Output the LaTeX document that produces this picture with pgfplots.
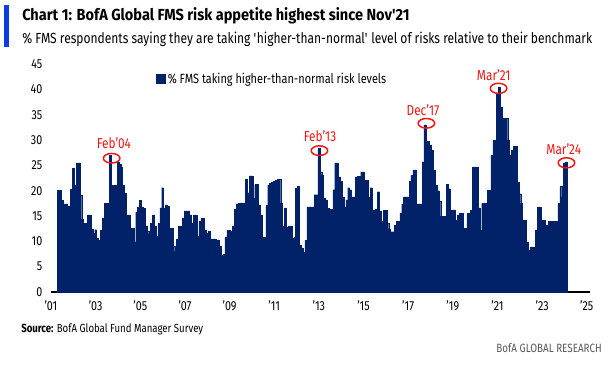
\documentclass[border=0pt]{standalone}
\usepackage{fontspec}
\setmainfont{Fira Sans}[FakeStretch=0.82]
\newfontfamily\titlefont{Fira Sans}[FakeStretch=0.91]
\usepackage{pgfplots}
\pgfplotsset{compat=1.18}
\definecolor{bofanavy}{RGB}{1,33,105}
\definecolor{bofared}{RGB}{240,20,20}
\definecolor{bofablue}{RGB}{10,60,230}
\begin{document}
\begin{tikzpicture}
\path[use as bounding box] (0,0) rectangle (456.75pt,282pt);
\begin{scope}[x=0.75pt,y=-0.75pt,shift={(0,282pt)}]
\fill[bofablue] (4,5) rectangle (9,47);
\node[anchor=base west, inner sep=0, font=\titlefont\bfseries\fontsize{12}{13}\selectfont] at (22,20) {Chart 1: BofA Global FMS risk appetite highest since Nov'21};
\node[anchor=base west, inner sep=0, font=\fontsize{11}{12}\selectfont] at (22,43) {\% FMS respondents saying they are taking \textquotesingle higher-than-normal\textquotesingle{} level of risks relative to their benchmark};
\node[anchor=west, inner sep=0, font=\fontsize{8.8}{9}\selectfont] at (21,329) {\textbf{Source:} BofA Global Fund Manager Survey};
\node[anchor=east, inner sep=0, text=black!65, font=\fontsize{9}{10}\selectfont] at (602,348) {BofA GLOBAL RESEARCH};
\end{scope}
\begin{axis}[
  at={(38.25pt,63pt)}, anchor=south west,
  width=403.9pt, height=171pt, scale only axis,
  xmin=0, xmax=289.5, ymin=0, ymax=45,
  enlargelimits=false, clip=false,
  axis lines*=left,
  y axis line style={draw=none},
  x axis line style={black, line width=0.8pt},
  xtick={0,24,...,288},
  xticklabels={'01,'03,'05,'07,'09,'11,'13,'15,'17,'19,'21,'23,'25},
  ytick={0,5,...,45},
  major tick length=0pt,
  tick style={draw=none},
  tick label style={font=\fontsize{9.8}{10}\selectfont},
  /pgf/number format/assume math mode=true,
  yticklabel style={xshift=-3pt},
  xticklabel style={yshift=-3pt},
  legend style={at={(0.195,0.975)}, anchor=north west, draw=none, fill=none,
    font=\fontsize{10}{11}\selectfont, inner sep=0pt},
]
\addplot[ybar, bar width=1, fill=bofanavy, draw=bofanavy, line width=0.2pt,
  legend image code/.code={\fill[bofanavy] (0pt,-3.2pt) rectangle (6.4pt,3.2pt);}]
table[row sep=\\] {
x y\\
4 20.1\\ 5 20.1\\ 6 18.1\\ 7 17.4\\ 8 17.4\\ 9 17\\ 10 17\\ 11 20.3\\ 12 24.4\\ 13 21\\
14 25.5\\ 15 25.5\\ 16 19.1\\ 17 14.4\\ 18 13.6\\ 19 13.6\\ 20 15.2\\ 21 15.2\\ 22 12.4\\ 23 11.6\\
24 12.3\\ 25 10.6\\ 26 10.2\\ 27 12.2\\ 28 14.5\\ 29 17.5\\ 30 17.5\\ 31 17.5\\ 32 27\\ 33 21\\
34 21\\ 35 21\\ 36 25.7\\ 37 25.2\\ 38 24.7\\ 39 21.1\\ 40 19.5\\ 41 15.2\\ 42 15.2\\ 43 12.6\\
44 12.6\\ 45 9.9\\ 46 15.8\\ 47 16.8\\ 48 18.1\\ 49 16.8\\ 50 16.5\\ 51 13\\ 52 12\\ 53 11.5\\
54 13.5\\ 55 15.2\\ 56 13\\ 57 11\\ 58 13.6\\ 59 16.6\\ 60 20.6\\ 61 16.6\\ 62 17.2\\ 63 17\\
64 12.6\\ 65 12.6\\ 66 9\\ 67 8\\ 68 10.5\\ 69 13\\ 70 13\\ 71 14.5\\ 72 16\\ 73 16\\
74 16\\ 75 15.2\\ 76 13.6\\ 77 15.2\\ 78 15.2\\ 79 11\\ 80 14\\ 81 14.5\\ 82 14.5\\ 83 12.2\\
84 11.6\\ 85 12\\ 86 10.5\\ 87 10.5\\ 88 10.5\\ 89 10.3\\ 90 10.3\\ 91 9\\ 92 7.3\\ 93 7.5\\
94 10.9\\ 95 12.2\\ 96 12.2\\ 97 12\\ 98 13\\ 99 16.3\\ 100 17.4\\ 101 17.5\\ 102 17.6\\ 103 17.6\\
104 17.6\\ 105 22.2\\ 106 19.6\\ 107 22.9\\ 108 22.9\\ 109 18.5\\ 110 21.2\\ 111 21.2\\ 112 17.2\\ 113 15.2\\
114 10.8\\ 115 10.8\\ 116 17.1\\ 117 21.1\\ 118 21.5\\ 119 21.6\\ 120 21.8\\ 121 22\\ 122 22.3\\ 123 22.3\\
124 17.6\\ 125 13\\ 126 16.6\\ 127 12.8\\ 128 13\\ 129 13\\ 130 10.6\\ 131 10.9\\ 132 20.5\\ 133 20.8\\
134 9.3\\ 135 8.7\\ 136 7.8\\ 137 10.2\\ 138 16.8\\ 139 16.8\\ 140 16.8\\ 141 16.8\\ 142 19.2\\ 143 19.2\\
144 28.3\\ 145 23.7\\ 146 23.1\\ 147 18.5\\ 148 18.2\\ 149 16.5\\ 150 16.3\\ 151 16.3\\ 152 20.2\\ 153 25.5\\
154 25.5\\ 155 22.7\\ 156 21.8\\ 157 18.8\\ 158 16.8\\ 159 18.2\\ 160 20.6\\ 161 20.2\\ 162 18.8\\ 163 18.8\\
164 22.7\\ 165 22.8\\ 166 22.8\\ 167 23.7\\ 168 23.7\\ 169 22.1\\ 170 22.1\\ 171 18.8\\ 172 20.6\\ 173 16.1\\
174 15.4\\ 175 16.3\\ 176 19.8\\ 177 16\\ 178 13.9\\ 179 16.1\\ 180 16.1\\ 181 13.6\\ 182 12.5\\ 183 11.9\\
184 11.9\\ 185 13.2\\ 186 13.9\\ 187 13.9\\ 188 15.5\\ 189 17.4\\ 190 18.8\\ 191 18.8\\ 192 18.8\\ 193 21.8\\
194 23\\ 195 24.1\\ 196 24.1\\ 197 17.4\\ 198 17.4\\ 199 17.4\\ 200 25.7\\ 201 33\\ 202 29.8\\ 203 29.8\\
204 29\\ 205 28\\ 206 24\\ 207 21\\ 208 20\\ 209 18\\ 210 15\\ 211 15\\ 212 15\\ 213 21.3\\
214 20.4\\ 215 16.2\\ 216 16.2\\ 217 16.2\\ 218 14.2\\ 219 15.2\\ 220 15.5\\ 221 15.5\\ 222 12.6\\ 223 12.6\\
224 15.5\\ 225 15.5\\ 226 16.1\\ 227 24.7\\ 228 24.7\\ 229 24.7\\ 230 16.6\\ 231 12.2\\ 232 17.5\\ 233 17.5\\
234 17.5\\ 235 20.1\\ 236 20.1\\ 237 27\\ 238 30\\ 239 30\\ 240 39.2\\ 241 40.5\\ 242 36.5\\ 243 34.3\\
244 34.3\\ 245 34.3\\ 246 30\\ 247 27\\ 248 28\\ 249 28.8\\ 250 28.8\\ 251 21.6\\ 252 19.4\\ 253 17.5\\
254 14.2\\ 255 14.2\\ 256 9.9\\ 257 8.3\\ 258 8.9\\ 259 8.9\\ 260 8.7\\ 261 12.2\\ 262 16.8\\ 263 16.8\\
264 14.2\\ 265 14.2\\ 266 13.2\\ 267 13.2\\ 268 14\\ 269 14\\ 270 14\\ 271 14\\ 272 14\\ 273 17.5\\
274 20.8\\ 275 18.8\\ 276 25.5\\ 277 25.7\\
};
\addlegendentry{\% FMS taking higher-than-normal risk levels}
\draw[bofared, line width=1.1pt] (axis cs:32.6,26.4) ellipse [x radius=6.2pt, y radius=3.6pt];
\node[bofared, font=\fontsize{10.8}{12}\selectfont] at (axis cs:33.8,29.4) {Feb'04};
\draw[bofared, line width=1.1pt] (axis cs:144.3,27.9) ellipse [x radius=6.2pt, y radius=3.6pt];
\node[bofared, font=\fontsize{10.8}{12}\selectfont] at (axis cs:144.6,30.7) {Feb'13};
\draw[bofared, line width=1.1pt] (axis cs:201.8,33.3) ellipse [x radius=6.2pt, y radius=3.6pt];
\node[bofared, font=\fontsize{10.8}{12}\selectfont] at (axis cs:200,35.9) {Dec'17};
\draw[bofared, line width=1.1pt] (axis cs:240.6,40.2) ellipse [x radius=6.2pt, y radius=3.8pt];
\node[bofared, font=\fontsize{10.8}{12}\selectfont] at (axis cs:238,42.8) {Mar'21};
\draw[bofared, line width=1.1pt] (axis cs:277.1,25.5) ellipse [x radius=6.2pt, y radius=3.8pt];
\node[bofared, font=\fontsize{10.8}{12}\selectfont] at (axis cs:275.6,28.1) {Mar'24};
\end{axis}
\end{tikzpicture}
\end{document}
